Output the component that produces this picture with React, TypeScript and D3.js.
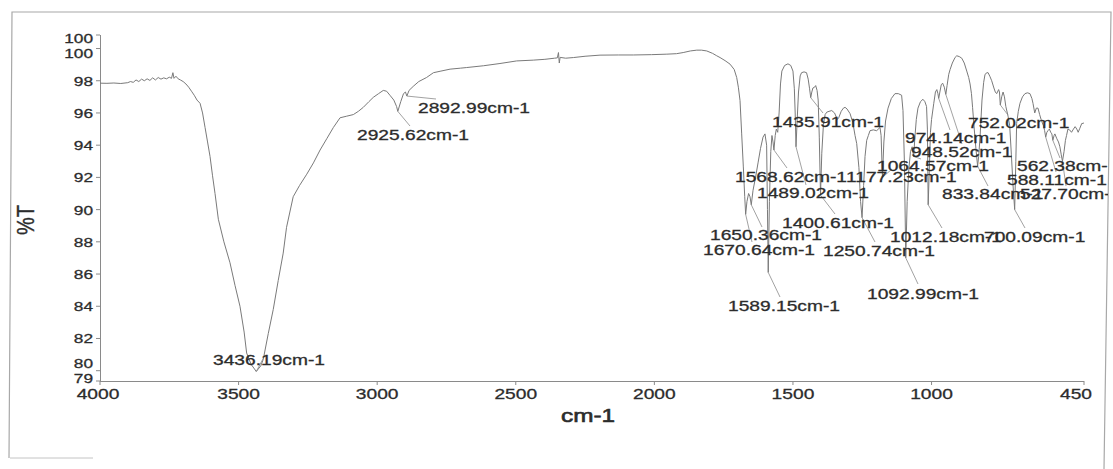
import * as d3 from 'd3';
import React, { useEffect, useRef } from 'react';

// Espectro FTIR: [número de onda cm-1, %T]
const spectrum: [number, number][] = [
  [4000, 97.85], [3975, 97.84], [3950, 97.86], [3925, 97.83], [3900, 97.88],
  [3890, 97.95], [3880, 97.9], [3870, 98.05], [3860, 97.95], [3850, 98.1],
  [3840, 98.0], [3830, 98.12], [3820, 98.02], [3810, 98.18], [3800, 98.05],
  [3790, 98.2], [3780, 98.1], [3770, 98.18], [3760, 98.12], [3750, 98.22],
  [3742, 98.15], [3737, 98.5], [3733, 98.15], [3726, 98.28], [3718, 98.12],
  [3710, 98.05], [3700, 97.95], [3690, 97.8], [3680, 97.6], [3670, 97.35],
  [3660, 97.1], [3650, 96.8], [3639, 96.6], [3630, 96.0], [3621, 95.1],
  [3612, 94.2], [3603, 93.3], [3594, 92.1], [3585, 91.0], [3573, 89.4],
  [3553, 88.0], [3531, 86.7], [3513, 85.3], [3495, 84.0], [3480, 82.4],
  [3471, 81.1], [3455, 80.4], [3436.19, 79.95], [3420, 80.3], [3411, 80.7],
  [3393, 82.3], [3375, 83.8], [3357, 85.6], [3339, 87.3], [3327, 88.9],
  [3303, 90.8], [3280, 91.5], [3254, 92.2], [3230, 92.9], [3206, 93.7],
  [3182, 94.4], [3158, 95.1], [3134, 95.7], [3110, 95.8], [3086, 95.9],
  [3068, 96.1], [3050, 96.35], [3030, 96.7], [3014, 96.97], [2995, 97.2],
  [2978, 97.4], [2966, 97.35], [2954, 97.1], [2940, 96.8], [2930, 96.4],
  [2925.62, 96.1], [2915, 96.7], [2905, 97.2], [2898, 97.3], [2892.99, 97.05],
  [2885, 97.4], [2870, 97.65], [2850, 97.95], [2822, 98.2], [2797, 98.5],
  [2770, 98.6], [2737, 98.72], [2700, 98.78], [2677, 98.82], [2617, 98.93],
  [2557, 99.07], [2497, 99.23], [2437, 99.28], [2395, 99.33], [2360, 99.4],
  [2350, 99.42], [2346, 99.75], [2343, 99.1], [2340, 99.45], [2320, 99.4],
  [2292, 99.44], [2250, 99.52], [2196, 99.59], [2130, 99.6], [2076, 99.6],
  [2010, 99.62], [1955, 99.65], [1920, 99.68], [1896, 99.75], [1870, 99.85],
  [1847, 99.9], [1830, 99.9], [1811, 99.85], [1790, 99.7], [1775, 99.55],
  [1763, 99.44], [1745, 99.25], [1727, 99.03], [1712, 98.7], [1703, 98.2],
  [1697, 97.6], [1691, 96.77], [1685, 94.7], [1679, 92.65], [1674, 90.8],
  [1670.64, 89.7], [1666, 90.5], [1660, 91.0], [1655, 90.8], [1650.36, 90.3],
  [1644, 91.2], [1635, 92.0], [1626, 92.9], [1617, 93.8], [1608, 94.5],
  [1601, 94.7], [1595, 94.0], [1592, 90.0], [1589.15, 86.1], [1585, 90.5],
  [1580, 93.6], [1575.8, 94.6], [1572, 94.2], [1568.62, 93.7], [1564, 94.6],
  [1560, 95.0], [1555, 94.8], [1550, 96.0], [1545, 97.8], [1540, 98.6],
  [1530, 98.95], [1518, 99.05], [1508, 98.95], [1500, 98.6], [1495, 97.5],
  [1492, 96.0], [1489.02, 93.9], [1485, 95.5], [1480, 97.3], [1474, 98.3],
  [1469, 98.5], [1460, 98.55], [1451, 98.5], [1445, 98.1], [1440, 97.5],
  [1435.91, 96.95], [1432, 97.3], [1428, 97.55], [1422, 97.6], [1418, 97.7],
  [1413, 97.4], [1409, 96.8], [1405, 94.5], [1400.61, 90.9], [1396, 93.5],
  [1390, 95.3], [1384, 95.9], [1378, 96.05], [1370, 96.1], [1360, 96.15],
  [1350, 96.0], [1340, 95.6], [1335, 95.7], [1326, 96.1], [1318, 96.3],
  [1312, 96.35], [1305, 96.25], [1294, 95.96], [1284, 95.4], [1276, 94.6],
  [1270, 94.1], [1262, 92.6], [1256, 90.5], [1250.74, 89.5], [1245, 91.5],
  [1240, 93.3], [1234, 94.3], [1228, 94.6], [1222, 94.9], [1210, 94.95],
  [1198, 94.9], [1186, 95.1], [1182, 94.6], [1177.23, 92.0], [1172, 94.2],
  [1166, 95.5], [1157, 96.3], [1145, 96.9], [1132, 97.2], [1120, 97.2],
  [1108, 97.1], [1103, 96.15], [1098, 93.0], [1092.99, 87.0], [1088, 90.5],
  [1082, 92.5], [1076, 93.6], [1070, 93.9], [1064.57, 93.3], [1060, 94.5],
  [1055, 95.6], [1049, 96.3], [1040, 96.7], [1031, 96.85], [1024, 96.7],
  [1018, 96.4], [1015, 95.0], [1012.18, 90.3], [1008, 92.5], [1004, 94.8],
  [1000, 95.6], [992, 96.6], [986, 97.3], [981, 97.45], [977, 97.2],
  [974.14, 96.9], [970, 97.3], [965, 97.75], [960, 97.85], [954, 97.6],
  [948.52, 97.15], [944, 97.7], [938, 98.4], [933, 98.7], [925, 99.1],
  [915, 99.45], [909, 99.55], [900, 99.5], [891, 99.4], [882, 99.1],
  [873, 98.6], [866, 98.2], [861, 97.8], [856, 97.2], [852, 96.35],
  [846, 95.0], [840, 93.8], [833.84, 92.7], [830, 93.3], [825, 94.5],
  [818, 96.8], [812, 97.9], [807, 98.4], [800, 98.5], [796, 98.5],
  [789, 98.25], [783, 98.0], [775, 97.55], [770, 97.3], [765, 97.2],
  [758, 97.45], [755, 97.3], [752.02, 96.5], [747, 97.0], [742, 97.3],
  [737, 97.0], [732, 96.4], [724, 95.8], [718, 95.2], [712, 93.4],
  [706, 91.5], [700.09, 90.0], [696, 93.0], [693, 95.35], [687, 96.1],
  [681, 96.6], [672, 97.0], [663, 97.2], [654, 97.25], [645, 97.2],
  [638, 96.9], [634, 96.6], [627.7, 96.0], [622, 96.3], [616, 96.3],
  [610, 95.9], [603, 95.5], [596, 95.2], [592, 94.9], [588.11, 94.5],
  [584, 94.8], [580, 94.9], [575, 95.0], [570, 94.8], [566, 94.7],
  [562.38, 94.3], [558, 94.6], [555, 94.7], [548, 94.4], [542, 94.2],
  [537, 93.9], [532, 93.4], [527.7, 93.0], [522, 93.6], [517, 94.3],
  [513, 94.6], [508, 95.0], [502, 94.95], [495, 94.8], [488, 95.0],
  [482, 95.15], [476, 95.0], [471, 94.8], [465, 95.05], [458, 95.35],
  [453, 95.35], [450, 95.4],
];

// Picos etiquetados (cm-1)
const peakWavenumbers = [
  3436.19, 2925.62, 2892.99, 1670.64, 1650.36, 1589.15, 1568.62, 1489.02,
  1435.91, 1400.61, 1250.74, 1177.23, 1092.99, 1064.57, 1012.18, 974.14,
  948.52, 833.84, 752.02, 700.09, 588.11, 562.38, 527.7,
];

// Posición de cada etiqueta: [x izquierda, y centro, fin guía x, fin guía y]
const labelLayout: [number, number, number, number][] = [
  [213, 360, 265, 355], [357, 135, 410, 126], [418, 108, 436, 99],
  [703, 250, 752, 242], [710, 235, 762, 227], [728, 306, 780, 297],
  [735, 177, 787, 168], [757, 193, 806, 185], [772, 122, 823, 113],
  [782, 223, 835, 214], [823, 251, 875, 242], [846, 177, 892, 169],
  [867, 294, 918, 284], [877, 166, 921, 159], [890, 237, 942, 228],
  [905, 138, 950, 130], [911, 152, 962, 144], [942, 194, 988, 186],
  [968, 123, 1008, 115], [984, 237, 1025, 228], [1007, 180, 1056, 172],
  [1017, 166, 1060, 158], [1020, 194, 1066, 186],
];

const xTickValues = [4000, 3500, 3000, 2500, 2000, 1500, 1000, 450];
const yTickValues = [80, 82, 84, 86, 88, 90, 92, 94, 96, 98, 100];
const yAxisMin = 79.36;
const yAxisMax = 100.84;

const FONT = '"Liberation Sans", Arial, sans-serif';
const STRETCH = 1.28;
const INK = '#2c2c2c';

const App: React.FC = () => {
  const svgRef = useRef<SVGSVGElement | null>(null);

  useEffect(() => {
    if (!svgRef.current) return;
    const svg = d3.select(svgRef.current);
    svg.selectAll('*').remove();

    const x = d3.scaleLinear().domain([4000, 450]).range([100, 1084]);
    const y = d3.scaleLinear().domain([yAxisMin, yAxisMax]).range([381, 35]);

    // texto algo ensanchado como en el escaneo
    const addText = (
      g: d3.Selection<any, unknown, null, undefined>,
      s: string,
      px: number,
      py: number,
      size: number,
      anchor = 'start',
      weight = 0.3
    ) =>
      g
        .append('text')
        .attr('transform', `translate(${px},${py}) scale(${STRETCH},1)`)
        .attr('text-anchor', anchor)
        .attr('font-family', FONT)
        .attr('font-size', size)
        .attr('fill', INK)
        .attr('stroke', INK)
        .attr('stroke-width', weight)
        .text(s);

    svg.append('rect').attr('width', 1113).attr('height', 469).attr('fill', '#fff');

    // Marco
    svg
      .append('path')
      .attr('d', 'M9,458 L12,12 L1111,12 L1104,469')
      .attr('fill', 'none')
      .attr('stroke', '#a8a8a8')
      .attr('stroke-width', 1.2);
    svg
      .append('line')
      .attr('x1', 10).attr('x2', 93).attr('y1', 458).attr('y2', 458)
      .attr('stroke', '#c4c4c4');

    // Ejes
    const axis = svg.append('g').attr('stroke', '#8a8a8a').attr('stroke-width', 1);
    axis.append('line').attr('x1', 100.5).attr('x2', 100.5).attr('y1', y(yAxisMax)).attr('y2', y(yAxisMin));
    axis.append('line').attr('x1', 100).attr('x2', x(450)).attr('y1', 381.5).attr('y2', 381.5);

    yTickValues.forEach((v) => {
      axis.append('line').attr('x1', 96).attr('x2', 100).attr('y1', y(v)).attr('y2', y(v));
    });
    [yAxisMax, yAxisMin].forEach((v) => {
      axis.append('line').attr('x1', 96).attr('x2', 100).attr('y1', y(v)).attr('y2', y(v));
    });
    xTickValues.forEach((v) => {
      axis.append('line').attr('x1', x(v)).attr('x2', x(v)).attr('y1', 381).attr('y2', 385);
    });

    const ticks = svg.append('g');
    yTickValues.forEach((v) => {
      let shift = 0;
      if (v === 100) shift = 4;
      if (v === 80) shift = -8;
      addText(ticks, String(v), 93, y(v) + 5 + shift, 13.5, 'end');
    });
    addText(ticks, '100', 93, y(yAxisMax) + 7.5, 13.5, 'end');
    addText(ticks, '79', 93, y(yAxisMin) + 2, 13.5, 'end');
    xTickValues.forEach((v) => {
      const dx = v === 450 ? -8 : v === 4000 ? -2 : 0;
      addText(ticks, String(v), x(v) + dx, 399, 15, 'middle');
    });

    addText(svg as any, 'cm-1', 588, 422, 19, 'middle', 0.6);
    svg
      .append('text')
      .attr('transform', 'translate(34,220) rotate(-90) scale(1,1.2)')
      .attr('text-anchor', 'middle')
      .attr('font-family', FONT)
      .attr('font-size', 20)
      .attr('fill', INK)
      .attr('stroke', INK)
      .attr('stroke-width', 0.3)
      .text('%T');

    // Curva
    const line = d3
      .line<[number, number]>()
      .x((d) => x(d[0]))
      .y((d) => y(d[1]));
    svg
      .append('path')
      .datum(spectrum)
      .attr('fill', 'none')
      .attr('stroke', '#7a7a7a')
      .attr('stroke-width', 1)
      .attr('stroke-linejoin', 'round')
      .attr('d', line);

    // Etiquetas de picos
    svg
      .append('clipPath')
      .attr('id', 'lblclip')
      .append('rect')
      .attr('x', 0).attr('y', 0).attr('width', 1108).attr('height', 469);
    const labels = svg.append('g').attr('clip-path', 'url(#lblclip)');

    peakWavenumbers.forEach((wn, i) => {
      const pt = spectrum.find((d) => d[0] === wn);
      if (!pt) return;
      const [, , ex, ey] = labelLayout[i];
      labels
        .append('line')
        .attr('x1', x(wn)).attr('y1', y(pt[1]))
        .attr('x2', ex).attr('y2', ey)
        .attr('stroke', '#8a8a8a')
        .attr('stroke-width', 0.8);
    });
    peakWavenumbers.forEach((wn, i) => {
      const [lx, ly] = labelLayout[i];
      addText(labels, `${wn.toFixed(2)}cm-1`, lx, ly + 5.3, 15);
    });
  }, []);

  return (
    <svg
      ref={svgRef}
      width={1113}
      height={469}
      style={{ position: 'absolute', left: 0, top: 0, background: '#fff' }}
    />
  );
};

export default App;
